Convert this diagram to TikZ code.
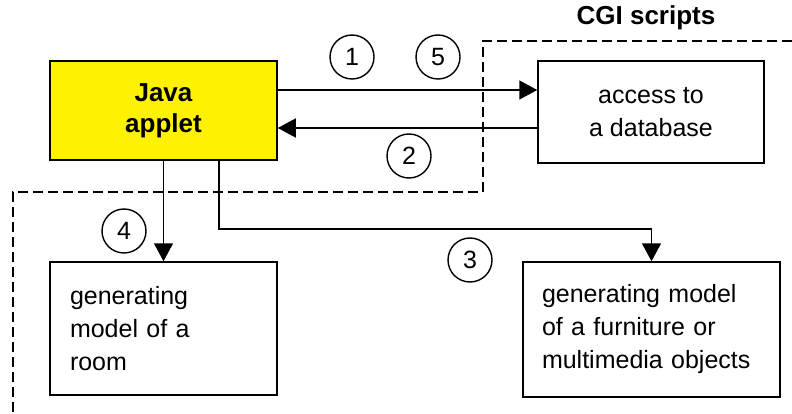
\documentclass[tikz,border=0pt]{standalone}
\usepackage{fontspec}
\setmainfont{Liberation Sans}
\usetikzlibrary{arrows.meta}
\begin{document}
\begin{tikzpicture}[x=1pt,y=-1pt,
  box/.style={draw, line width=1.5pt, inner sep=0pt, font=\fontsize{25}{33}\selectfont},
  num/.style={draw, circle, line width=1.4pt, minimum size=44pt, inner sep=0pt, font=\fontsize{25}{30}\selectfont},
  arr/.style={line width=1.5pt, -{Triangle[length=18pt,width=19pt]}},
  region/.style={line width=1.5pt, dash pattern=on 10pt off 5pt}]
\useasboundingbox (0,0) rectangle (792,414);
% dashed CGI region
\draw[region] (792,41) -- (483,41) -- (483,192) -- (13,192) -- (13,414);
\node[font=\fontsize{26}{30}\selectfont\bfseries] (cgi) at (646,18) {CGI scripts};
% boxes
\node[box, fill=yellow, minimum width=227pt, minimum height=99pt, align=center,
      font=\fontsize{26}{31}\selectfont\bfseries] (java) at (163.5,110.5) {Java\\applet};
\node[box, fill=white, minimum width=226pt, minimum height=102pt, align=center] (access) at (651,112) {access to\\ a database};
\node[box, text width=187pt, inner xsep=20pt, minimum height=133pt, align=left] (room) at (163.5,328.5) {generating\\model of a\\room};
\node[box, text width=219pt, inner xsep=19pt, minimum height=135pt, align=left] (furn) at (651.5,329.5) {generating model\\of a furniture or\\multimedia objects};
% connectors
\draw[arr] (java.east |- 0,90) -- (access.west |- 0,90);
\draw[arr] (access.west |- 0,128) -- (java.east |- 0,128);
\draw[arr] (java.south) -- (room.north);
\coordinate (bend) at (219,229);
\draw[arr] (java.south -| bend) -- (bend) -| (furn.north);
% numbers
\node[num] (n1) at (352,57) {1};
\node[num] (n5) at (438,57) {5};
\node[num] (n2) at (409,156) {2};
\node[num] (n4) at (124,231) {4};
\node[num] (n3) at (470,260) {3};
\end{tikzpicture}
\end{document}
